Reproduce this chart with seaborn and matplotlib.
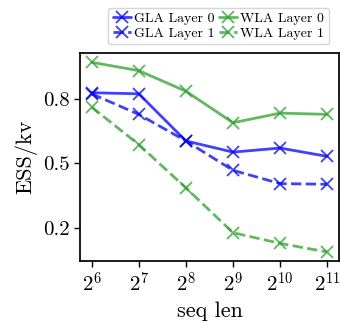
import matplotlib
matplotlib.use("Agg")
import matplotlib.pyplot as plt
import seaborn as sns
import pandas as pd

seq_len = [64, 128, 256, 512, 1024, 2048]
gla_layer0 = [0.830, 0.825, 0.605, 0.553, 0.572, 0.533]
gla_layer1 = [0.825, 0.729, 0.605, 0.468, 0.406, 0.403]
wla_layer0 = [0.972, 0.933, 0.837, 0.690, 0.735, 0.729]
wla_layer1 = [0.763, 0.588, 0.386, 0.177, 0.127, 0.087]
yticks = [0.2, 0.5, 0.8]

sns.set_theme(style="ticks")
plt.rcParams.update({
    "font.family": "serif",
    "font.serif": ["cmr10"],
    "mathtext.fontset": "cm",
    "axes.formatter.use_mathtext": True,
    "axes.unicode_minus": False,
    "text.color": "black",
    "axes.labelcolor": "black",
    "xtick.color": "black",
    "ytick.color": "black",
    "axes.edgecolor": "black",
})

# legend order: column 1 = GLA, column 2 = WLA
series = [
    ("GLA Layer 0", gla_layer0, "blue", "-"),
    ("GLA Layer 1", gla_layer1, "blue", "--"),
    ("WLA Layer 0", wla_layer0, "#2ca02c", "-"),
    ("WLA Layer 1", wla_layer1, "#2ca02c", "--"),
]

fig, ax = plt.subplots(figsize=(3.4, 3.22), dpi=100)
for name, vals, color, ls in series:
    df = pd.DataFrame({"seq len": seq_len, "ESS/kv": vals})
    sns.lineplot(data=df, x="seq len", y="ESS/kv", ax=ax, color=color,
                 linestyle=ls, marker="x", markersize=9, markeredgewidth=1.3,
                 markeredgecolor=color, markerfacecolor=color,
                 linewidth=2, alpha=0.75, label=name, legend=False)

lines = ax.get_lines()[:4]
ax.legend(lines, [s[0] for s in series],
          ncol=2, fontsize=10, loc="lower center", bbox_to_anchor=(0.535, 1.02),
          handlelength=1.3, handletextpad=0.25, columnspacing=0.3,
          borderpad=0.3, labelspacing=0.2, frameon=True, borderaxespad=0.3)

ax.set_xscale("log", base=2)
ax.set_xticks(seq_len)
ax.set_xticklabels([rf"$2^{{{i}}}$" for i in range(6, 12)])
ax.minorticks_off()
ax.set_yticks(yticks)
ax.set_yticklabels([f"{t:.1f}" for t in yticks])
ax.tick_params(labelsize=15, length=4, width=1)
ax.set_xlabel("seq len", fontsize=16)
ax.set_ylabel("ESS/kv", fontsize=16)

fig.subplots_adjust(left=0.235, right=0.997, bottom=0.188, top=0.836)
fig.savefig("out.png", dpi=100)
